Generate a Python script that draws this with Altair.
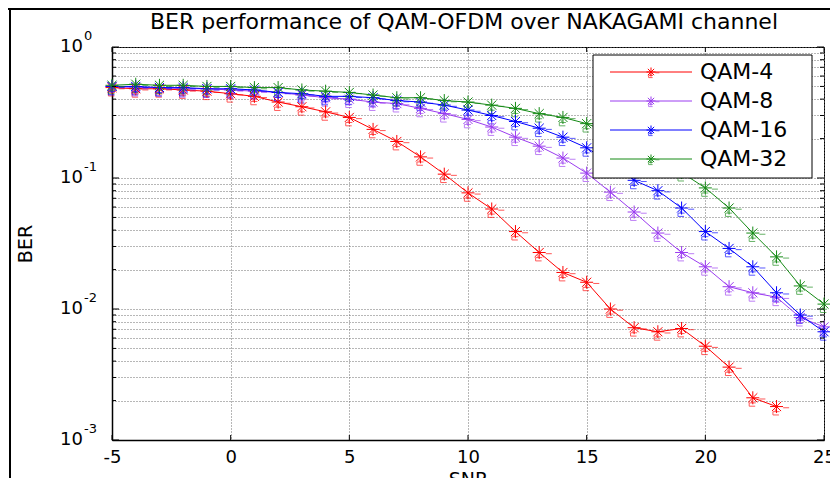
import altair as alt
import pandas as pd

# ---------------- data ----------------
names = ["QAM-4", "QAM-8", "QAM-16", "QAM-32"]
colors = ["#ff0000", "#9b3cf0", "#0000ff", "#158a15"]

snr = list(range(-5, 26))
snr_qam4 = list(range(-5, 24))

ber_qam4 = [0.49, 0.48, 0.48, 0.47, 0.46, 0.44, 0.42, 0.38, 0.35, 0.32,
            0.29, 0.235, 0.19, 0.145, 0.107, 0.077, 0.058, 0.039, 0.027, 0.019,
            0.016, 0.0100, 0.0072, 0.0067, 0.0071, 0.0052, 0.0036, 0.0021, 0.0018]
ber_qam8 = [0.50, 0.49, 0.49, 0.48, 0.48, 0.47, 0.46, 0.45, 0.43, 0.41,
            0.40, 0.38, 0.37, 0.34, 0.31, 0.28, 0.245, 0.205, 0.175, 0.142,
            0.109, 0.078, 0.055, 0.038, 0.027, 0.021, 0.0148, 0.0133, 0.0123, 0.0086,
            0.0073]
ber_qam16 = [0.50, 0.50, 0.49, 0.49, 0.48, 0.48, 0.47, 0.45, 0.44, 0.42,
             0.42, 0.41, 0.39, 0.38, 0.36, 0.33, 0.30, 0.27, 0.24, 0.205,
             0.17, 0.13, 0.096, 0.080, 0.059, 0.039, 0.029, 0.021, 0.0133, 0.0090,
             0.0067]
ber_qam32 = [0.51, 0.52, 0.51, 0.51, 0.50, 0.50, 0.49, 0.49, 0.47, 0.46,
             0.45, 0.43, 0.41, 0.41, 0.39, 0.38, 0.36, 0.34, 0.31, 0.29,
             0.26, 0.22, 0.18, 0.145, 0.11, 0.084, 0.059, 0.038, 0.025, 0.015,
             0.0109]

x_ticks = [-5, 0, 5, 10, 15, 20, 25]
y_major = [1, 0.1, 0.01, 0.001]
y_exp = ["0", "-1", "-2", "-3"]
y_minor = [0.9, 0.8, 0.7, 0.6, 0.5, 0.4, 0.3, 0.2,
           0.09, 0.08, 0.07, 0.06, 0.05, 0.04, 0.03, 0.02,
           0.009, 0.008, 0.007, 0.006, 0.005, 0.004, 0.003, 0.002]

title_text = "BER performance of QAM-OFDM over NAKAGAMI channel"

# ---------------- tables ----------------
rows = []
for name, xs_, vals in zip(names, [snr_qam4, snr, snr, snr],
                           [ber_qam4, ber_qam8, ber_qam16, ber_qam32]):
    for s, v in zip(xs_, vals):
        rows.append({"snr": s, "ber": v, "series": name})
df = pd.DataFrame(rows)

FONT = "DejaVu Sans"
W, H = 712, 393

STAR = "M-1,0L1,0M0,-1L0,1M-0.7,-0.7L0.7,0.7M-0.7,0.7L0.7,-0.7"
GHOST = ("M1.1,0.2L2.1,0.2M-0.6,0.85L0.5,0.85M-0.6,0.85L-0.6,1.4"
         "M-0.6,1.4L0.4,1.4M-0.2,0.45L-0.2,0.85")

xs = alt.Scale(domain=[-5, 25], nice=False, zero=False)
ys = alt.Scale(type="log", domain=[0.001, 1], nice=False)
cs = alt.Scale(domain=names, range=colors)

GRID = "#6e6e6e"
x_axis = alt.Axis(values=x_ticks, grid=True, ticks=False, labelFlush=False,
                  labelOverlap=False, labelExpr="'' + datum.value",
                  labelFontSize=18, labelFont=FONT,
                  labelColor="black", labelPadding=8, domainColor="black",
                  domainWidth=1.5, gridColor=GRID, gridDash=[1, 2],
                  gridWidth=1, gridOpacity=1, title="SNR", titleFont=FONT,
                  titleFontSize=19, titleFontWeight="normal", titleColor="black",
                  titleBaseline="top", titleX=W / 2, titleY=30)
y_axis = alt.Axis(values=y_major + y_minor, grid=True, ticks=False, labels=False,
                  domainColor="black", domainWidth=1.5, gridColor=GRID,
                  gridDash=[1, 2], gridWidth=1, gridOpacity=1, title="BER",
                  titleFont=FONT, titleFontSize=19, titleFontWeight="normal",
                  titleColor="black", titleAngle=270, titleAlign="center",
                  titleBaseline="middle", titleX=-87, titleY=H / 2)

X = alt.X("snr:Q", scale=xs, axis=x_axis)
Y = alt.Y("ber:Q", scale=ys, axis=y_axis)
C = alt.Color("series:N", scale=cs, legend=None)

base = alt.Chart(df)
lines = base.mark_line(strokeWidth=1).encode(x=X, y=Y, color=C)
ghosts = base.mark_point(shape=GHOST, filled=False, size=144, strokeWidth=1,
                         opacity=0.65).encode(x=X, y=Y, color=C)
stars = base.mark_point(shape=STAR, filled=False, size=169, strokeWidth=1,
                        opacity=1).encode(x=X, y=Y, color=C)

ymaj = alt.Chart(pd.DataFrame({"ber": y_major}))
ymin = alt.Chart(pd.DataFrame({"ber": y_minor}))
xtk = alt.Chart(pd.DataFrame({"snr": x_ticks}))
tick_style = dict(color="black", strokeWidth=1)
ticks = [
    ymaj.mark_rule(**tick_style).encode(y=Y, x=alt.value(0), x2=alt.value(7)),
    ymaj.mark_rule(**tick_style).encode(y=Y, x=alt.value(W), x2=alt.value(W - 7)),
    ymin.mark_rule(**tick_style).encode(y=Y, x=alt.value(0), x2=alt.value(4)),
    ymin.mark_rule(**tick_style).encode(y=Y, x=alt.value(W), x2=alt.value(W - 4)),
    xtk.mark_rule(**tick_style).encode(x=X, y=alt.value(H), y2=alt.value(H - 5)),
    xtk.mark_rule(**tick_style).encode(x=X, y=alt.value(0), y2=alt.value(5)),
]

lab_df = pd.DataFrame({"ber": y_major, "exp": y_exp})
ten = alt.Chart(lab_df).mark_text(text="10", align="right", baseline="middle",
                                  fontSize=18, font=FONT, color="black").encode(
    y=Y, x=alt.value(-29))
exps = alt.Chart(lab_df).mark_text(align="left", baseline="middle", dy=-11,
                                   fontSize=13, font=FONT, color="black").encode(
    y=Y, x=alt.value(-28), text="exp:N")

main = alt.layer(lines, ghosts, stars, *ticks, ten, exps)

# ---------------- legend + frame ----------------
leg_df = pd.DataFrame({"series": names})
one = alt.Chart(pd.DataFrame({"k": [0]}))
LY = alt.Y("series:N", scale=alt.Scale(type="point", domain=names,
                                        range=[25, 112], padding=0), axis=None)
box = one.mark_rect(fill="white", stroke="black", strokeWidth=1).encode(
    x=alt.value(481), x2=alt.value(700), y=alt.value(8), y2=alt.value(131))
leg_lines = alt.Chart(leg_df).mark_rule(strokeWidth=1).encode(
    y=LY, x=alt.value(498), x2=alt.value(580), color=C)
leg_ghost = alt.Chart(leg_df).mark_point(shape=GHOST, filled=False, size=64,
                                         strokeWidth=1, opacity=0.65).encode(
    y=LY, x=alt.value(539), color=C)
leg_pts = alt.Chart(leg_df).mark_point(shape=STAR, filled=False, size=81,
                                       strokeWidth=1, opacity=1).encode(
    y=LY, x=alt.value(539), color=C)
leg_text = alt.Chart(leg_df).mark_text(align="left", baseline="middle",
                                       fontSize=22, font=FONT,
                                       color="black").encode(
    y=LY, x=alt.value(588), text="series:N")

border_left = one.mark_rule(color="black", strokeWidth=2).encode(
    x=alt.value(-102), y=alt.value(-39), y2=alt.value(431))
border_top = one.mark_rule(color="black", strokeWidth=2).encode(
    y=alt.value(-38), x=alt.value(-104), x2=alt.value(718))
title = one.mark_text(text=title_text, align="center", baseline="alphabetic",
                      fontSize=22, font=FONT, color="black").encode(
    x=alt.value(352), y=alt.value(-18))

legend = alt.layer(box, leg_lines, leg_ghost, leg_pts, leg_text,
                   border_left, border_top, title)

chart = (
    alt.layer(main, legend)
    .resolve_scale(y="independent")
    .properties(width=W, height=H,
                autosize=alt.AutoSizeParams(type="none"),
                padding={"left": 104, "top": 39, "right": 6, "bottom": 38},
                background="white")
    .configure_view(stroke="black", strokeWidth=1)
)

chart.save("out.html", embed_options={"renderer": "svg", "actions": False})
